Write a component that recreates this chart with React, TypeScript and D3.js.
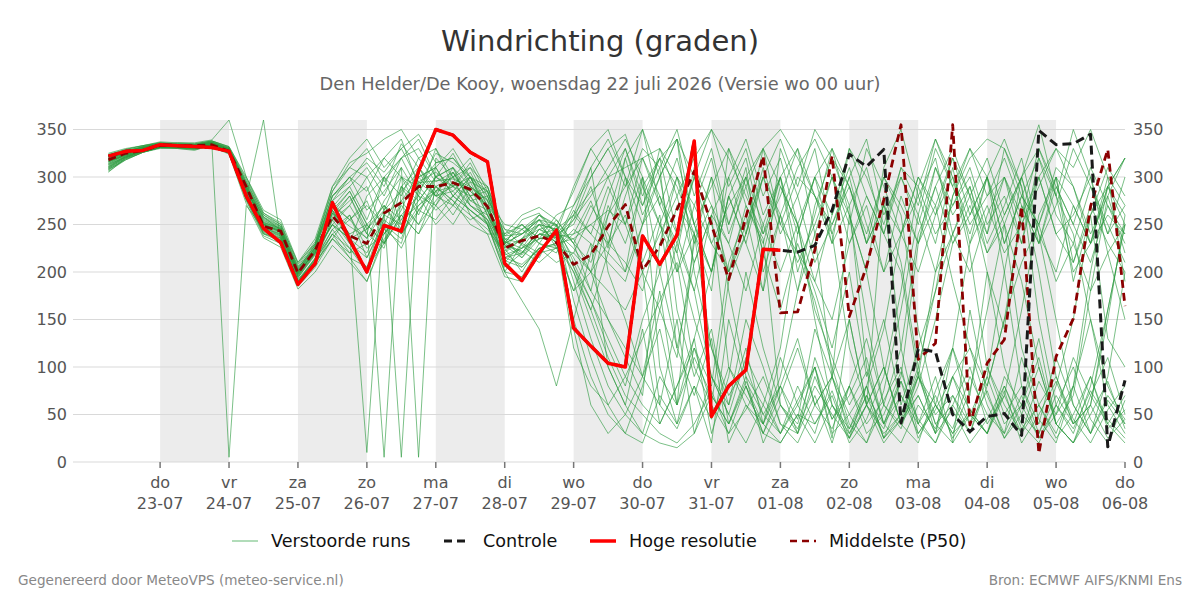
import React from 'react';
import * as d3 from 'd3';

const WIDTH = 1200;
const HEIGHT = 600;
const plot = { left: 73, right: 1125, top: 120, bottom: 462 };
const FONT = '"DejaVu Sans", Verdana, sans-serif';

// 6-uurlijkse waarden vanaf woensdag 22-07 06:00
const startTime = new Date(2026, 6, 22, 6);
const stepHours = 6;

const dayLabels = ['do', 'vr', 'za', 'zo', 'ma', 'di', 'wo', 'do', 'vr', 'za', 'zo', 'ma', 'di', 'wo', 'do'];
const dateLabels = ['23-07', '24-07', '25-07', '26-07', '27-07', '28-07', '29-07', '30-07', '31-07', '01-08', '02-08', '03-08', '04-08', '05-08', '06-08'];
const bandDays = ['23-07', '25-07', '27-07', '29-07', '31-07', '02-08', '04-08'];
const yTicks = [0, 50, 100, 150, 200, 250, 300, 350];

const hogeResolutie = [
  322, 327, 328, 334, 333, 332, 331, 327, 280, 246,
  231, 187, 209, 273, 234, 200, 249, 243, 306, 350,
  344, 326, 316, 209, 191, 220, 244, 141, 122, 104,
  100, 238, 208, 239, 338, 48, 80, 97, 224, 223,
];

const controle = [
  322, 327, 328, 334, 333, 332, 331, 327, 280, 246,
  231, 187, 209, 273, 234, 200, 249, 243, 306, 350,
  344, 326, 316, 209, 191, 220, 244, 141, 122, 104,
  100, 238, 208, 239, 338, 48, 80, 97, 224, 223,
  221, 228, 265, 324, 311, 329, 41, 119, 116, 50,
  32, 48, 51, 28, 349, 334, 335, 345, 16, 86,
];

const middelste = [
  318, 325, 328, 333, 333, 333, 334, 327, 290, 248,
  243, 199, 223, 259, 238, 230, 262, 273, 290, 290,
  294, 287, 269, 225, 233, 238, 231, 208, 218, 248,
  271, 202, 227, 266, 306, 250, 192, 258, 322, 157,
  158, 223, 322, 153, 206, 276, 355, 108, 125, 355,
  39, 104, 129, 269, 9, 111, 151, 269, 329, 164,
];

const verstoordeRuns = [
  [305, 320, 327, 331, 330, 328, 334, 325, 280, 240, 236, 190, 215, 268, 290, 255, 300, 320, 285, 310, 330, 300, 265, 230, 255, 262, 240, 250, 290, 230, 300, 270, 320, 290, 240, 300, 180, 90, 60, 120, 240, 300, 330, 260, 150, 60, 40, 90, 200, 280, 330, 300, 250, 120, 60, 30, 80, 200, 290, 260],
  [315, 324, 330, 334, 336, 335, 338, 332, 300, 262, 250, 210, 230, 285, 310, 330, 295, 320, 340, 300, 325, 290, 270, 245, 228, 215, 250, 230, 180, 150, 120, 90, 60, 35, 80, 45, 100, 70, 40, 90, 180, 270, 320, 290, 230, 300, 260, 140, 60, 30, 50, 90, 200, 300, 330, 280, 240, 150, 80, 40],
  [320, 326, 332, 336, 334, 332, 335, 328, 290, 255, 245, 200, 220, 250, 225, 200, 245, 230, 290, 270, 305, 280, 250, 200, 195, 225, 210, 220, 260, 300, 330, 270, 310, 350, 280, 330, 250, 300, 220, 160, 230, 180, 120, 200, 90, 150, 60, 120, 180, 240, 200, 260, 300, 230, 320, 280, 350, 300, 240, 300],
  [308, 318, 326, 330, 331, 330, 333, 326, 275, 238, 230, 185, 205, 235, 215, 190, 240, 260, 280, 250, 270, 300, 265, 215, 220, 245, 238, 205, 170, 120, 80, 150, 200, 120, 210, 260, 230, 300, 250, 200, 250, 160, 110, 60, 95, 40, 20, 60, 35, 90, 120, 80, 150, 210, 250, 190, 230, 180, 220, 150],
  [322, 328, 331, 335, 333, 334, 337, 331, 295, 260, 248, 205, 225, 280, 300, 315, 290, 335, 310, 290, 300, 320, 285, 240, 250, 235, 260, 270, 300, 330, 345, 290, 250, 200, 240, 120, 70, 100, 50, 80, 130, 60, 90, 35, 70, 25, 50, 90, 60, 30, 75, 160, 250, 300, 355, 280, 200, 230, 290, 250],
  [318, 325, 329, 332, 331, 331, 333, 327, 288, 250, 242, 195, 220, 265, 240, 10, 270, 245, 300, 310, 280, 300, 280, 230, 240, 250, 230, 180, 230, 100, 60, 140, 40, 80, 120, 60, 190, 240, 300, 260, 310, 340, 300, 250, 330, 290, 240, 300, 270, 320, 260, 300, 230, 280, 250, 310, 290, 230, 260, 240],
  [311, 322, 328, 333, 333, 331, 336, 5, 270, 245, 238, 192, 210, 255, 270, 240, 225, 290, 260, 300, 285, 265, 250, 200, 230, 255, 225, 240, 275, 225, 320, 350, 300, 340, 250, 290, 330, 270, 235, 60, 30, 90, 45, 70, 110, 40, 85, 25, 60, 35, 90, 50, 30, 70, 25, 60, 100, 45, 20, 65],
  [325, 330, 333, 337, 336, 336, 339, 360, 300, 265, 255, 210, 235, 290, 320, 340, 310, 330, 295, 280, 310, 290, 275, 250, 245, 260, 240, 235, 200, 270, 230, 290, 320, 340, 300, 250, 200, 270, 230, 300, 330, 280, 240, 120, 60, 30, 50, 100, 180, 280, 320, 340, 330, 290, 150, 60, 30, 80, 160, 250],
  [314, 323, 329, 333, 333, 332, 335, 328, 282, 248, 240, 198, 222, 262, 240, 250, 5, 290, 275, 300, 290, 270, 255, 210, 230, 250, 245, 205, 160, 110, 70, 50, 30, 20, 40, 75, 30, 55, 90, 40, 20, 60, 35, 80, 30, 50, 95, 40, 70, 25, 55, 30, 80, 40, 20, 60, 35, 75, 45, 25],
  [309, 320, 327, 332, 332, 330, 334, 326, 278, 360, 232, 188, 212, 240, 225, 205, 260, 275, 250, 290, 275, 260, 245, 220, 205, 225, 230, 255, 300, 330, 290, 350, 270, 320, 250, 200, 280, 230, 300, 240, 280, 210, 250, 300, 230, 270, 210, 100, 40, 20, 50, 30, 70, 160, 260, 300, 270, 230, 290, 320],
  [317, 324, 330, 334, 334, 333, 336, 329, 292, 252, 246, 202, 228, 280, 300, 265, 285, 310, 5, 320, 300, 285, 270, 232, 220, 245, 250, 190, 130, 80, 50, 30, 90, 60, 110, 70, 40, 85, 50, 30, 65, 100, 45, 80, 130, 60, 35, 90, 50, 70, 40, 100, 60, 30, 85, 50, 110, 70, 40, 20],
  [320, 327, 331, 335, 335, 334, 336, 330, 290, 258, 244, 196, 224, 255, 280, 240, 300, 280, 320, 295, 305, 275, 280, 235, 215, 240, 232, 270, 310, 340, 300, 250, 330, 280, 210, 260, 300, 240, 330, 290, 250, 150, 60, 30, 70, 40, 90, 230, 310, 260, 290, 230, 270, 320, 240, 150, 60, 30, 90, 200],
  [306, 318, 326, 331, 330, 329, 332, 324, 272, 236, 226, 182, 200, 228, 210, 190, 235, 255, 270, 290, 275, 250, 240, 195, 190, 220, 225, 220, 200, 230, 260, 200, 160, 230, 180, 90, 60, 120, 40, 80, 30, 110, 60, 25, 80, 140, 240, 300, 260, 320, 280, 200, 100, 50, 30, 80, 150, 260, 310, 280],
  [323, 329, 333, 336, 335, 335, 338, 332, 298, 262, 252, 208, 232, 285, 315, 325, 340, 350, 320, 330, 300, 310, 290, 245, 240, 260, 250, 210, 170, 130, 90, 60, 40, 80, 130, 200, 300, 340, 280, 320, 250, 190, 150, 230, 280, 240, 300, 260, 200, 240, 280, 320, 260, 300, 230, 270, 330, 290, 250, 210],
  [313, 322, 328, 333, 332, 331, 335, 328, 284, 246, 240, 194, 218, 250, 235, 220, 260, 250, 300, 280, 290, 300, 260, 225, 200, 230, 225, 245, 230, 210, 190, 250, 280, 220, 310, 270, 230, 180, 250, 300, 220, 190, 260, 310, 250, 200, 280, 230, 270, 190, 120, 60, 25, 50, 100, 40, 70, 180, 280, 220],
  [319, 325, 330, 334, 333, 333, 336, 328, 286, 253, 244, 200, 226, 270, 255, 235, 275, 300, 290, 315, 320, 295, 285, 230, 240, 255, 235, 200, 150, 100, 60, 30, 20, 15, 30, 70, 40, 90, 20, 60, 35, 80, 50, 25, 60, 100, 40, 70, 30, 55, 20, 45, 80, 35, 60, 25, 50, 90, 40, 70],
  [310, 321, 328, 332, 332, 331, 334, 327, 280, 244, 236, 192, 214, 245, 260, 225, 240, 270, 250, 275, 295, 270, 260, 215, 225, 235, 240, 260, 285, 300, 310, 320, 330, 300, 270, 230, 270, 300, 330, 350, 320, 280, 250, 290, 230, 270, 240, 200, 260, 300, 250, 280, 320, 270, 230, 290, 250, 210, 270, 240],
  [316, 323, 329, 333, 333, 332, 335, 328, 288, 250, 242, 198, 222, 250, 235, 245, 265, 285, 305, 280, 285, 305, 270, 220, 235, 250, 245, 150, 90, 50, 30, 80, 160, 110, 230, 300, 250, 310, 200, 260, 180, 240, 90, 150, 60, 20, 45, 95, 30, 120, 70, 200, 140, 270, 230, 300, 190, 260, 130, 100],
  [321, 327, 332, 335, 334, 334, 337, 330, 293, 257, 247, 203, 229, 275, 290, 310, 280, 320, 330, 300, 310, 280, 290, 238, 250, 230, 255, 230, 210, 260, 290, 320, 280, 240, 300, 230, 200, 250, 300, 340, 290, 350, 320, 270, 100, 40, 70, 30, 60, 120, 230, 300, 340, 290, 200, 90, 40, 60, 150, 260],
  [312, 322, 328, 332, 331, 330, 334, 326, 282, 247, 238, 190, 214, 255, 230, 215, 255, 240, 270, 285, 260, 290, 250, 205, 220, 240, 236, 120, 80, 60, 90, 130, 170, 210, 100, 60, 30, 80, 40, 20, 50, 40, 75, 25, 60, 35, 85, 45, 20, 70, 30, 90, 40, 60, 25, 50, 80, 30, 65, 40],
  [317, 324, 330, 333, 333, 333, 335, 329, 289, 251, 243, 199, 224, 262, 248, 236, 264, 5, 294, 296, 298, 290, 276, 200, 170, 140, 80, 150, 220, 280, 330, 280, 320, 240, 180, 260, 100, 60, 30, 80, 45, 140, 90, 260, 200, 310, 350, 280, 320, 240, 290, 220, 260, 300, 240, 200, 270, 230, 300, 190],
  [314, 323, 329, 333, 332, 332, 335, 327, 285, 249, 241, 196, 220, 262, 285, 250, 230, 300, 265, 285, 305, 275, 265, 228, 215, 235, 240, 290, 330, 350, 300, 210, 260, 120, 70, 130, 20, 60, 40, 110, 60, 30, 90, 50, 20, 75, 160, 260, 330, 290, 240, 300, 200, 80, 40, 110, 60, 30, 70, 45],
  [324, 329, 333, 336, 335, 334, 338, 331, 296, 260, 250, 206, 230, 290, 310, 300, 320, 340, 290, 325, 315, 300, 285, 238, 240, 255, 250, 170, 110, 60, 30, 20, 70, 40, 120, 80, 210, 260, 180, 330, 280, 330, 240, 300, 340, 260, 300, 250, 310, 270, 300, 240, 330, 280, 250, 300, 210, 260, 290, 320],
  [307, 319, 326, 331, 331, 329, 333, 325, 276, 240, 232, 186, 208, 240, 215, 205, 230, 260, 240, 270, 250, 280, 255, 215, 208, 225, 230, 235, 250, 265, 250, 300, 200, 270, 240, 200, 280, 230, 180, 260, 210, 250, 300, 230, 270, 200, 240, 280, 230, 310, 230, 270, 220, 250, 300, 240, 210, 270, 230, 200],
  [319, 326, 331, 334, 334, 333, 336, 329, 290, 254, 245, 201, 226, 272, 255, 270, 250, 290, 310, 285, 290, 315, 280, 232, 225, 240, 238, 255, 280, 310, 340, 300, 250, 220, 150, 90, 50, 110, 70, 30, 60, 100, 30, 50, 80, 25, 70, 40, 20, 60, 100, 40, 70, 30, 60, 90, 45, 20, 55, 80],
  [311, 321, 328, 332, 332, 330, 334, 327, 281, 245, 237, 190, 212, 245, 220, 230, 250, 225, 265, 290, 270, 255, 265, 222, 235, 245, 234, 140, 60, 30, 50, 90, 140, 60, 240, 180, 330, 290, 220, 290, 250, 300, 230, 270, 310, 240, 200, 90, 40, 60, 30, 80, 150, 260, 300, 240, 260, 300, 220, 250],
  [316, 324, 329, 333, 333, 332, 335, 328, 287, 251, 243, 198, 223, 265, 285, 250, 230, 275, 300, 310, 280, 300, 270, 230, 218, 240, 245, 260, 240, 220, 200, 250, 300, 340, 200, 120, 60, 150, 100, 40, 30, 70, 20, 80, 40, 65, 100, 30, 55, 90, 40, 75, 25, 60, 110, 40, 20, 50, 85, 35],
  [322, 328, 332, 335, 334, 334, 337, 330, 294, 258, 248, 204, 228, 280, 295, 320, 305, 330, 345, 315, 320, 300, 290, 234, 245, 255, 242, 225, 200, 180, 160, 200, 240, 280, 320, 350, 290, 330, 260, 300, 240, 300, 260, 330, 280, 240, 310, 270, 340, 290, 330, 280, 300, 250, 290, 330, 310, 350, 300, 270],
  [309, 320, 327, 331, 331, 330, 333, 326, 278, 242, 234, 188, 210, 235, 260, 215, 250, 235, 285, 265, 280, 265, 250, 212, 205, 225, 228, 200, 160, 220, 280, 330, 310, 160, 90, 140, 40, 80, 30, 20, 50, 20, 60, 35, 80, 25, 45, 70, 30, 90, 55, 30, 75, 20, 50, 85, 40, 60, 25, 45],
  [318, 325, 330, 334, 333, 333, 336, 329, 288, 252, 244, 200, 225, 260, 280, 245, 270, 255, 295, 305, 290, 280, 285, 231, 250, 235, 237, 240, 250, 230, 210, 180, 250, 300, 230, 270, 200, 240, 310, 250, 220, 170, 100, 40, 20, 60, 120, 240, 290, 230, 270, 220, 250, 190, 100, 40, 20, 60, 160, 250],
  [313, 321, 327, 332, 332, 331, 334, 327, 283, 247, 239, 194, 219, 258, 275, 290, 240, 265, 310, 280, 270, 295, 260, 225, 245, 230, 220, 260, 310, 200, 150, 90, 180, 60, 130, 30, 90, 200, 120, 60, 40, 100, 25, 150, 60, 280, 120, 40, 90, 20, 160, 70, 30, 110, 45, 20, 80, 150, 60, 30],
  [319, 326, 331, 334, 333, 333, 336, 329, 289, 250, 243, 199, 222, 265, 230, 280, 300, 250, 275, 300, 310, 270, 255, 226, 235, 260, 248, 285, 330, 300, 250, 320, 270, 230, 300, 350, 320, 280, 240, 300, 200, 260, 330, 290, 240, 300, 270, 230, 290, 330, 280, 240, 300, 260, 330, 290, 250, 310, 270, 230],
  [310, 321, 327, 331, 331, 330, 333, 326, 279, 243, 235, 190, 213, 240, 255, 275, 230, 260, 240, 285, 300, 260, 240, 240, 260, 268, 255, 230, 270, 240, 200, 300, 100, 40, 80, 20, 150, 80, 30, 70, 120, 60, 90, 30, 60, 100, 40, 20, 75, 120, 50, 30, 90, 60, 130, 40, 20, 70, 110, 50],
  [321, 327, 331, 335, 334, 334, 336, 330, 292, 256, 246, 202, 226, 275, 300, 285, 320, 300, 280, 330, 290, 310, 275, 235, 230, 220, 245, 215, 180, 260, 320, 260, 300, 200, 270, 320, 240, 290, 330, 250, 300, 280, 230, 330, 300, 250, 310, 290, 240, 270, 310, 250, 280, 230, 300, 330, 290, 240, 280, 320],
  [316, 323, 329, 333, 333, 332, 335, 328, 286, 250, 242, 197, 221, 250, 270, 300, 265, 310, 280, 270, 295, 285, 268, 228, 222, 210, 226, 180, 200, 150, 110, 70, 230, 300, 250, 200, 280, 320, 240, 280, 330, 240, 300, 260, 200, 100, 40, 80, 150, 230, 260, 300, 230, 280, 320, 260, 230, 290, 240, 270],
  [308, 319, 326, 331, 331, 330, 333, 325, 277, 241, 233, 188, 209, 235, 220, 250, 270, 240, 265, 255, 280, 265, 252, 218, 225, 250, 230, 265, 240, 290, 250, 200, 60, 150, 30, 90, 50, 20, 60, 30, 80, 40, 70, 20, 45, 90, 180, 290, 340, 300, 220, 100, 50, 80, 30, 70, 40, 90, 35, 55],
];

const legendItems = [
  { label: 'Verstoorde runs', color: '#7cc48a', width: 1.2, dash: null, x: 232 },
  { label: 'Controle', color: '#1a1a1a', width: 3, dash: '8,5', x: 444 },
  { label: 'Hoge resolutie', color: '#ff0000', width: 3.5, dash: null, x: 590 },
  { label: 'Middelste (P50)', color: '#8b0000', width: 2.5, dash: '7,5', x: 790 },
];

const parseDay = (s: string) => new Date(2026, +s.slice(3) - 1, +s.slice(0, 2));
const timeAt = (i: number) => new Date(startTime.getTime() + i * stepHours * 3600 * 1000);

export default function App() {
  const x = d3
    .scaleTime()
    .domain([new Date(2026, 6, 21, 17, 40), new Date(2026, 7, 6)])
    .range([plot.left, plot.right]);
  const y = d3.scaleLinear().domain([0, 360]).range([plot.bottom, plot.top]);

  const line = d3
    .line<number>()
    .x((_, i) => x(timeAt(i)))
    .y(d => y(d));

  const tickDates = dateLabels.map(parseDay);

  return (
    <svg width={WIDTH} height={HEIGHT} style={{ display: 'block', position: 'absolute', left: 0, top: 0, background: '#fff' }} fontFamily={FONT}>
      <rect width={WIDTH} height={HEIGHT} fill="#fff" />
      <text x={600} y={51} textAnchor="middle" fontSize={29} fill="#333">Windrichting (graden)</text>
      <text x={600} y={90} textAnchor="middle" fontSize={17.8} fill="#666">
        Den Helder/De Kooy, woensdag 22 juli 2026 (Versie wo 00 uur)
      </text>

      {bandDays.map(d => {
        const s = parseDay(d);
        const e = d3.timeDay.offset(s, 1);
        return (
          <rect key={d} x={x(s)} y={plot.top} width={x(e) - x(s)} height={plot.bottom - plot.top} fill="#ececec" />
        );
      })}

      {yTicks.map(t => (
        <g key={t}>
          <line x1={plot.left} x2={plot.right} y1={y(t)} y2={y(t)} stroke="#d9d9d9" strokeWidth={1} />
          <text x={67} y={y(t)} dy="0.35em" textAnchor="end" fontSize={16} fill="#555">{t}</text>
          <text x={1133} y={y(t)} dy="0.35em" textAnchor="start" fontSize={16} fill="#555">{t}</text>
        </g>
      ))}

      {tickDates.map((d, i) => (
        <g key={dateLabels[i]} transform={`translate(${x(d)},0)`}>
          <line y1={plot.bottom} y2={plot.bottom + 6} stroke="#777" strokeWidth={1.5} />
          <text y={488} textAnchor="middle" fontSize={16} fill="#555">{dayLabels[i]}</text>
          <text y={509} textAnchor="middle" fontSize={16} fill="#555">{dateLabels[i]}</text>
        </g>
      ))}

      <g fill="none" strokeLinejoin="round">
        {verstoordeRuns.map((run, k) => (
          <path key={k} d={line(run) || ''} stroke="#2a9a3e" strokeOpacity={0.62} strokeWidth={1} />
        ))}
        <path d={line(middelste) || ''} stroke="#8b0000" strokeWidth={2.8} strokeDasharray="8,5" />
        <path d={line(controle) || ''} stroke="#1a1a1a" strokeWidth={3} strokeDasharray="9,5" />
        <path d={line(hogeResolutie) || ''} stroke="#ff0000" strokeWidth={3.5} />
      </g>

      {legendItems.map(item => (
        <g key={item.label} transform={`translate(${item.x},541)`}>
          <line x1={0} x2={26} y1={0} y2={0} stroke={item.color} strokeWidth={item.width} strokeDasharray={item.dash || undefined} />
          <text x={39} dy="0.35em" fontSize={17.6} fill="#111">{item.label}</text>
        </g>
      ))}

      <text x={18} y={585} fontSize={13.6} fill="#888">Gegenereerd door MeteoVPS (meteo-service.nl)</text>
      <text x={1182} y={585} textAnchor="end" fontSize={13.6} fill="#888">Bron: ECMWF AIFS/KNMI Ens</text>
    </svg>
  );
}
